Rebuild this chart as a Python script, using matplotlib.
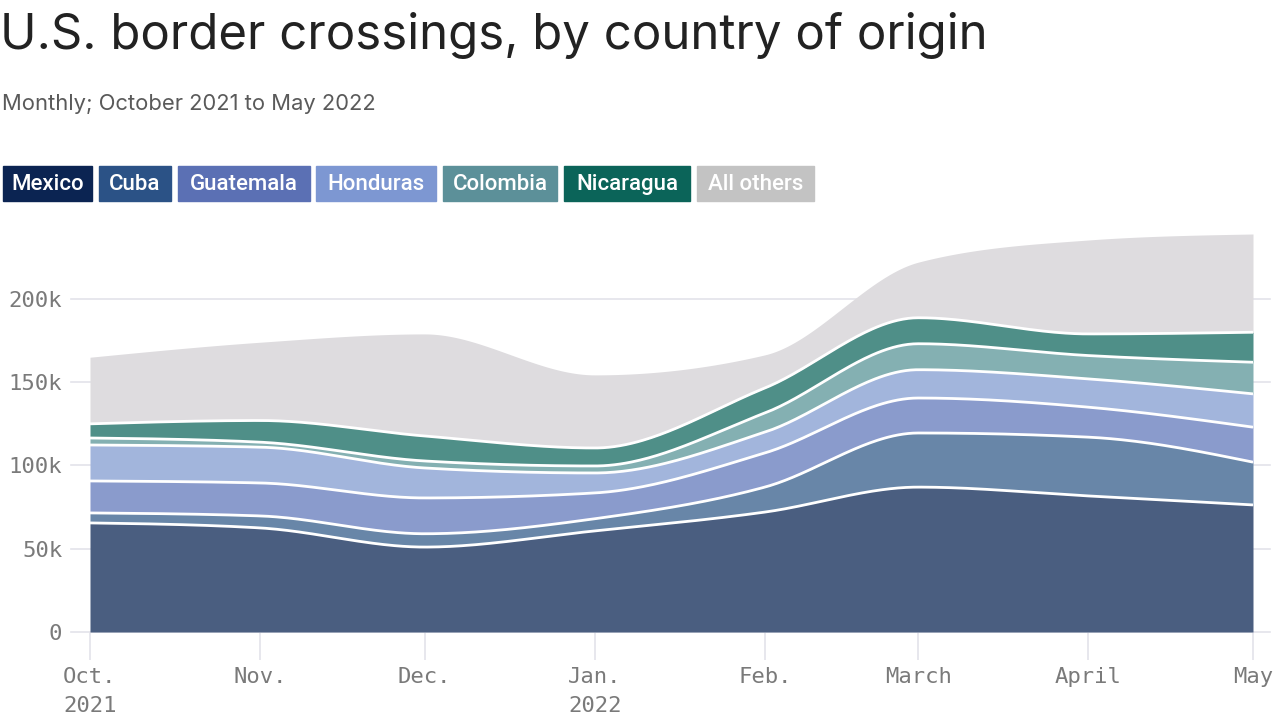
import numpy as np
import matplotlib
matplotlib.use("Agg")
import matplotlib.pyplot as plt
import matplotlib.dates as mdates
from matplotlib.patches import Rectangle
import datetime as dt

# ---- data (thousands of crossings) ----
months = ["2021-10-01", "2021-11-01", "2021-12-01", "2022-01-01",
          "2022-02-01", "2022-03-01", "2022-04-01", "2022-05-01"]
tick_labels = ["Oct.\n2021", "Nov.", "Dec.", "Jan.\n2022", "Feb.", "March", "April", "May"]
countries = ["Mexico", "Cuba", "Guatemala", "Honduras", "Colombia", "Nicaragua", "All others"]
mexico     = [65.5, 62.5, 51.0, 60.7, 72.0, 87.0, 81.7, 76.3]
cuba       = [6.0, 7.2, 8.0, 7.3, 15.0, 32.5, 35.3, 25.7]
guatemala  = [19.2, 19.8, 21.5, 15.5, 20.5, 21.0, 18.0, 21.0]
honduras   = [21.6, 21.5, 18.0, 12.0, 12.5, 17.0, 17.0, 20.0]
colombia   = [4.2, 3.0, 4.2, 4.2, 11.5, 15.6, 14.0, 19.0]
nicaragua  = [8.5, 13.0, 15.0, 10.8, 15.0, 15.6, 13.0, 18.0]
all_others = [40.0, 47.0, 61.3, 43.9, 19.9, 33.4, 56.4, 59.0]
y_ticks = [0, 50, 100, 150, 200]
y_tick_labels = ["0", "50k", "100k", "150k", "200k"]

series = [mexico, cuba, guatemala, honduras, colombia, nicaragua, all_others]
legend_colors = ["#0b2452", "#2b5286", "#5b70b4", "#7d97d2", "#5c9099", "#0b6459", "#c3c3c3"]
fill_colors = ["#4a5e80", "#6886a8", "#8a9bcc", "#a2b5dc", "#84b0b2", "#4f8f88", "#dedcdf"]


def monotone_curve(x, y, n=60):
    """d3.curveMonotoneX style (Steffen) cubic Hermite rendering."""
    x = np.asarray(x, float)
    y = np.asarray(y, float)
    h = np.diff(x)
    s = np.diff(y) / h
    m = np.zeros_like(y)
    for i in range(1, len(y) - 1):
        s0, s1 = s[i - 1], s[i]
        p = (s0 * h[i] + s1 * h[i - 1]) / (h[i - 1] + h[i])
        m[i] = (np.sign(s0) + np.sign(s1)) * min(abs(s0), abs(s1), 0.5 * abs(p))
    m[0] = (3 * s[0] - m[1]) / 2
    m[-1] = (3 * s[-1] - m[-2]) / 2
    xs, ys = [], []
    for i in range(len(h)):
        t = np.linspace(0, 1, n, endpoint=(i == len(h) - 1))
        h00 = 2 * t**3 - 3 * t**2 + 1
        h10 = t**3 - 2 * t**2 + t
        h01 = -2 * t**3 + 3 * t**2
        h11 = t**3 - t**2
        xs.append(x[i] + t * h[i])
        ys.append(h00 * y[i] + h10 * h[i] * m[i] + h01 * y[i + 1] + h11 * h[i] * m[i + 1])
    return np.concatenate(xs), np.concatenate(ys)


plt.rcParams['font.family'] = ['Inter', 'DejaVu Sans']
fig = plt.figure(figsize=(12.8, 7.19), dpi=100)
W, H = 1280, 719

ax = fig.add_axes([90 / W, (H - 632) / H, (1253 - 90) / W, (632 - 230) / H])

xd = mdates.date2num([dt.datetime.strptime(m, "%Y-%m-%d") for m in months])
cum = np.cumsum(np.array(series, float), axis=0)
lower = None
curves = []
for i, col in enumerate(fill_colors):
    xs, top = monotone_curve(xd, cum[i])
    bottom = np.zeros_like(top) if lower is None else lower
    ax.fill_between(xs, bottom, top, color=col, lw=0, zorder=2)
    curves.append((xs, top))
    lower = top
for xs, top in curves[:-1]:
    ax.plot(xs, top, color="white", lw=2.0, zorder=3, solid_capstyle="butt")

ax.set_xlim(xd[0], xd[-1])
ax.set_ylim(0, 241.4)

# horizontal gridlines extending past plot
for yv in y_ticks:
    ax.axhline(yv, xmin=-0.016, xmax=1.015, color="#e3e3ea", lw=1.2, zorder=1, clip_on=False)

ax.set_yticks(y_ticks)
ax.set_yticklabels(y_tick_labels)
ax.set_xticks(xd)
ax.set_xticklabels(tick_labels, linespacing=1.55, va="top")

ax.tick_params(axis="y", length=0, pad=20, labelsize=16, labelcolor="#7a7a7a")
ax.tick_params(axis="x", length=20, width=1.2, color="#e3e3ea", direction="out",
               pad=5, labelsize=16, labelcolor="#7a7a7a")
for lab in ax.get_yticklabels() + ax.get_xticklabels():
    lab.set_family(["DejaVu Sans Mono"])
for lab in ax.get_xticklabels():
    lab.set_ha("center")
for sp in ax.spines.values():
    sp.set_visible(False)

# title & subtitle
fig.text(0 / W, 1 - 49 / H, "U.S. border crossings, by country of origin",
         fontsize=35.4, color="#222222", ha="left", va="baseline")
fig.text(2 / W, 1 - 110 / H, "Monthly; October 2021 to May 2022",
         fontsize=15.8, color="#5a5a5a", ha="left", va="baseline")

# legend chips
chips = [(3, 92), (99, 171), (178, 310), (316, 436), (443, 557), (564, 690), (697, 814)]
for (x0, x1), name, col in zip(chips, countries, legend_colors):
    fig.patches.append(Rectangle((x0 / W, 1 - 201 / H), (x1 - x0) / W, 35 / H,
                                 transform=fig.transFigure, color=col, zorder=1))
    fig.text((x0 + x1) / 2 / W, 1 - 184.5 / H, name, fontsize=16, color="white",
             ha="center", va="center", family=["Roboto", "DejaVu Sans"], weight="medium")

fig.savefig("out.png", dpi=100)
